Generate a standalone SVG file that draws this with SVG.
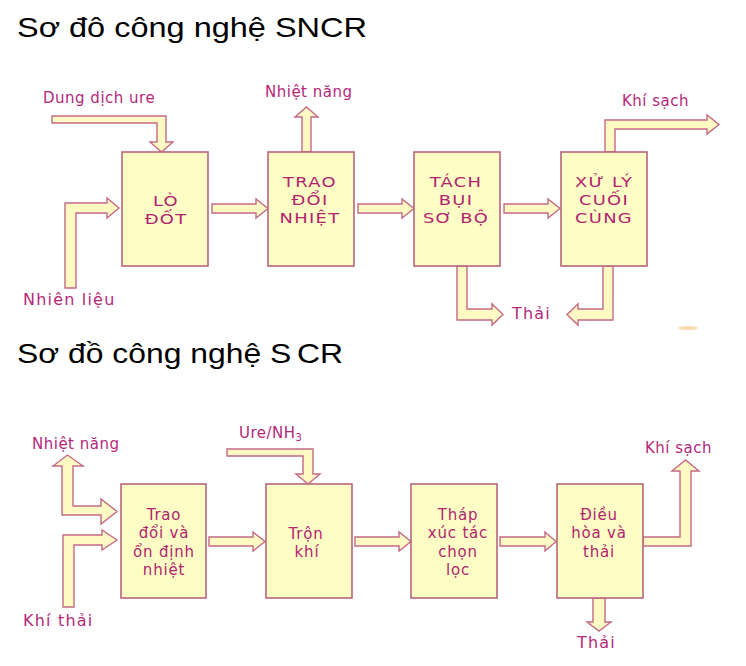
<svg xmlns="http://www.w3.org/2000/svg" width="746" height="666" viewBox="0 0 746 666">
<style>
.title{font-family:"Liberation Sans",Arial,sans-serif;font-size:28px;fill:#000}
.box{fill:#fffdc6;stroke:#b8647e;stroke-width:1.6}
.arrow{fill:#fffac4;stroke:#c46a86;stroke-width:1.4;stroke-linejoin:miter}
.bt{font-family:"DejaVu Sans",Verdana,sans-serif;font-size:14px;letter-spacing:1px;fill:#b0246e;text-anchor:middle}
.bs{font-family:"DejaVu Sans",Verdana,sans-serif;font-size:15px;letter-spacing:0.8px;fill:#b0246e;text-anchor:middle}
.lb{font-family:"DejaVu Sans",Verdana,sans-serif;font-size:15px;letter-spacing:0.5px;fill:#b4287a}
.lb2{font-family:"DejaVu Sans",Verdana,sans-serif;font-size:16px;letter-spacing:1.2px;fill:#b4287a}
</style>
<rect width="746" height="666" fill="#fff"/>
<text class="title" x="17" y="37" textLength="350" lengthAdjust="spacingAndGlyphs">Sơ đô công nghệ SNCR</text>
<text class="title" x="17" y="363" textLength="326" lengthAdjust="spacingAndGlyphs">Sơ đồ công nghệ S<tspan dx="5">CR</tspan></text>

<g id="connectors">
  <!-- SNCR -->
  <polygon class="arrow" points="212,204 256,204 256,199 268,208.5 256,218 256,213 212,213"/>
  <polygon class="arrow" points="358,204 402,204 402,199 414,208.5 402,218 402,213 358,213"/>
  <polygon class="arrow" points="504,204 548,204 548,199 560,208.5 548,218 548,213 504,213"/>
  <polygon class="arrow" points="52,116 166,116 166,142 173,142 161.5,152 150,142 157,142 157,123 52,123"/>
  <polygon class="arrow" points="302,152 302,117 295,117 306.5,107 318,117 311,117 311,152"/>
  <polygon class="arrow" points="65,288 65,203 107,203 107,198 119,208 107,218 107,213 76,213 76,288"/>
  <polygon class="arrow" points="605,152 605,120 707,120 707,115 719,124.5 707,134 707,129 615,129 615,152"/>
  <polygon class="arrow" points="457,266 457,320 492,320 492,325 503,314.5 492,304 492,309 467,309 467,266"/>
  <polygon class="arrow" points="613,266 613,320 578,320 578,325 567,314.5 578,304 578,309 603,309 603,266"/>
  <!-- SCR -->
  <polygon class="arrow" points="209,537 253,537 253,532 265,541.5 253,551 253,546 209,546"/>
  <polygon class="arrow" points="355,537 399,537 399,532 411,541.5 399,551 399,546 355,546"/>
  <polygon class="arrow" points="500,537 545,537 545,532 556,541.5 545,551 545,546 500,546"/>
  <polygon class="arrow" points="62,466 53,466 67.5,455 83,466 73,466 73,506 101,506 101,499 117,511.5 101,524 101,515 62,515"/>
  <polygon class="arrow" points="63,607 63,535 102,535 102,530 117,540 102,550 102,545 74,545 74,607"/>
  <polygon class="arrow" points="227,449 313,449 313,474 320,474 308,484 296,474 303,474 303,456 227,456"/>
  <polygon class="arrow" points="643,537 680,537 680,471 672,471 685.5,460 699,471 691,471 691,546 643,546"/>
  <polygon class="arrow" points="593,598 593,622 587,622 599,631 611,622 605,622 605,598"/>
</g>

<g id="sncr-lo-dot"><rect class="box" x="122" y="152" width="86" height="114"/>
  <text class="bt" transform="translate(166,206) scale(1.28,1)">LÒ</text>
  <text class="bt" transform="translate(166,224) scale(1.28,1)">ĐỐT</text></g>
<g id="sncr-trao-doi-nhiet"><rect class="box" x="268" y="152" width="86" height="114"/>
  <text class="bt" transform="translate(310,187) scale(1.28,1)">TRAO</text>
  <text class="bt" transform="translate(310,205) scale(1.28,1)">ĐỔI</text>
  <text class="bt" transform="translate(310,223) scale(1.28,1)">NHIỆT</text></g>
<g id="sncr-tach-bui"><rect class="box" x="414" y="152" width="86" height="114"/>
  <text class="bt" transform="translate(456,187) scale(1.28,1)">TÁCH</text>
  <text class="bt" transform="translate(456,205) scale(1.28,1)">BỤI</text>
  <text class="bt" transform="translate(456,223) scale(1.28,1)">SƠ BỘ</text></g>
<g id="sncr-xu-ly"><rect class="box" x="561" y="152" width="86" height="114"/>
  <text class="bt" transform="translate(604,187) scale(1.28,1)">XỬ LÝ</text>
  <text class="bt" transform="translate(604,205) scale(1.28,1)">CUỐI</text>
  <text class="bt" transform="translate(604,223) scale(1.28,1)">CÙNG</text></g>

<g id="sncr-labels">
  <text class="lb" x="43" y="103">Dung dịch ure</text>
  <text class="lb" x="265" y="97">Nhiệt năng</text>
  <text class="lb2" x="23" y="305">Nhiên liệu</text>
  <text class="lb" x="622" y="106" letter-spacing="0.8">Khí sạch</text>
  <text class="lb2" x="512" y="319" letter-spacing="1.5">Thải</text>
</g>

<g id="scr-trao-doi"><rect class="box" x="121" y="484" width="85" height="114"/>
  <text class="bs" x="164" y="520">Trao</text><text class="bs" x="164" y="538">đổi và</text><text class="bs" x="164" y="557">ổn định</text><text class="bs" x="164" y="575">nhiệt</text></g>
<g id="scr-tron-khi"><rect class="box" x="266" y="484" width="86" height="114"/>
  <text class="bs" x="306" y="539">Trộn</text><text class="bs" x="307" y="557">khí</text></g>
<g id="scr-thap-xuc-tac"><rect class="box" x="411" y="484" width="86" height="114"/>
  <text class="bs" x="458" y="520">Tháp</text><text class="bs" x="458" y="538">xúc tác</text><text class="bs" x="458" y="557">chọn</text><text class="bs" x="458" y="575">lọc</text></g>
<g id="scr-dieu-hoa"><rect class="box" x="557" y="484" width="86" height="114"/>
  <text class="bs" x="599" y="520">Điều</text><text class="bs" x="599" y="538">hòa và</text><text class="bs" x="599" y="557">thải</text></g>

<g id="scr-labels">
  <text class="lb" x="32" y="449">Nhiệt năng</text>
  <text class="lb2" x="23" y="626" letter-spacing="0.6">Khí thải</text>
  <text class="lb" x="239" y="438" letter-spacing="1">Ure/NH<tspan font-size="10" dy="3">3</tspan></text>
  <text class="lb" x="645" y="453" letter-spacing="0.8">Khí sạch</text>
  <text class="lb2" x="577" y="648" letter-spacing="1.5">Thải</text>
</g>
<ellipse cx="688" cy="328" rx="10" ry="2" fill="#f6c27a" opacity="0.6"/>
</svg>
